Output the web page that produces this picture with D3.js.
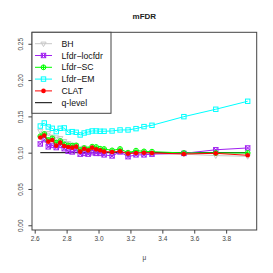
<!DOCTYPE html>
<html>
<head>
<meta charset="utf-8">
<script src="https://cdn.jsdelivr.net/npm/d3@7"></script>
<style>
  body { margin: 0; background: #fff; }
  svg { display: block; font-family: "Liberation Sans", Arial, sans-serif; }
</style>
</head>
<body>
<svg id="chart" width="273" height="273"></svg>
<script>
// mu values (x)
const mu = [2.635, 2.66, 2.685, 2.71, 2.735, 2.76, 2.785, 2.81, 2.835, 2.86, 2.885, 2.91, 2.935,
  2.96, 2.985, 3.01, 3.035, 3.085, 3.135, 3.185, 3.235, 3.285, 3.335, 3.535, 3.735, 3.935];

const bh = [0.130, 0.126, 0.127, 0.122, 0.121, 0.120, 0.116, 0.113, 0.111, 0.110, 0.106, 0.107, 0.104,
  0.104, 0.104, 0.103, 0.102, 0.101, 0.102, 0.099, 0.100, 0.100, 0.099, 0.098, 0.096, 0.095];
const locfdr = [0.112, 0.118, 0.108, 0.110, 0.107, 0.110, 0.1055, 0.102, 0.101, 0.104, 0.098, 0.099, 0.098,
  0.100, 0.099, 0.099, 0.097, 0.0955, 0.101, 0.0945, 0.097, 0.097, 0.098, 0.099, 0.104, 0.1065];
const sc = [0.1226, 0.1258, 0.1175, 0.1198, 0.1138, 0.1161, 0.1115, 0.1101, 0.1097, 0.1101, 0.1037, 0.1064, 0.1046,
  0.1083, 0.1078, 0.1055, 0.1051, 0.1032, 0.1051, 0.1000, 0.1028, 0.1018, 0.1014, 0.0996, 0.0996, 0.0996];
const em = [0.1367, 0.1409, 0.1354, 0.1336, 0.1290, 0.1336, 0.1341, 0.1281, 0.1290, 0.1281, 0.1244, 0.1271, 0.1285,
  0.1299, 0.1299, 0.1295, 0.1295, 0.1299, 0.1313, 0.1313, 0.1331, 0.1359, 0.1377, 0.1496, 0.1598, 0.1708];
const clat = [0.1209, 0.1237, 0.1152, 0.1175, 0.1097, 0.1138, 0.1092, 0.1078, 0.1069, 0.1083, 0.1014, 0.1055, 0.1032,
  0.1069, 0.1046, 0.1032, 0.1014, 0.1009, 0.1018, 0.0987, 0.0996, 0.1000, 0.0996, 0.0982, 0.0991, 0.0964];
const qLevel = 0.1;

const xTicks = [2.6, 2.8, 3.0, 3.2, 3.4, 3.6, 3.8];
const yTicks = [0.00, 0.05, 0.10, 0.15, 0.20, 0.25];

const series = [
  { name: "BH", values: bh, color: "#c8c8c8", pch: "tridown" },
  { name: "Lfdr\u2212locfdr", values: locfdr, color: "#a020f0", pch: "boxx" },
  { name: "Lfdr\u2212SC", values: sc, color: "#00ff00", pch: "circplus" },
  { name: "Lfdr\u2212EM", values: em, color: "#00ffff", pch: "square" },
  { name: "CLAT", values: clat, color: "#ff0000", pch: "dot" }
];

const svg = d3.select("#chart");
const plot = { left: 32, right: 256.7, top: 32.3, bottom: 230 };

const x = d3.scaleLinear().domain([2.583, 3.9915]).range([plot.left, plot.right]);
const y = d3.scaleLinear().domain([-0.0065, 0.2658]).range([plot.bottom, plot.top]);

// draw one R-style plotting symbol
function symbol(g, pch, cx, cy, color) {
  const s = 2.2;
  if (pch === "tridown") {
    g.append("path")
      .attr("d", `M${cx - 2.6},${cy - 1.6}L${cx + 2.6},${cy - 1.6}L${cx},${cy + 2.9}Z`)
      .attr("fill", "none").attr("stroke", color).attr("stroke-width", 1);
  } else if (pch === "boxx") {
    g.append("rect").attr("x", cx - s).attr("y", cy - s).attr("width", 2 * s).attr("height", 2 * s)
      .attr("fill", "none").attr("stroke", color).attr("stroke-width", 1);
    g.append("path")
      .attr("d", `M${cx - s},${cy - s}L${cx + s},${cy + s}M${cx - s},${cy + s}L${cx + s},${cy - s}`)
      .attr("stroke", color).attr("stroke-width", 1);
  } else if (pch === "circplus") {
    g.append("circle").attr("cx", cx).attr("cy", cy).attr("r", 2.4)
      .attr("fill", "none").attr("stroke", color).attr("stroke-width", 1);
    g.append("path")
      .attr("d", `M${cx - 2.4},${cy}L${cx + 2.4},${cy}M${cx},${cy - 2.4}L${cx},${cy + 2.4}`)
      .attr("stroke", color).attr("stroke-width", 1);
  } else if (pch === "square") {
    g.append("rect").attr("x", cx - s).attr("y", cy - s).attr("width", 2 * s).attr("height", 2 * s)
      .attr("fill", "none").attr("stroke", color).attr("stroke-width", 1);
  } else if (pch === "dot") {
    g.append("circle").attr("cx", cx).attr("cy", cy).attr("r", 2.3).attr("fill", color);
  }
}

const line = d3.line().x(d => x(d[0])).y(d => y(d[1]));

// q-level reference
svg.append("path")
  .attr("d", line([[mu[0], qLevel], [mu[mu.length - 1], qLevel]]))
  .attr("stroke", "#000").attr("fill", "none").attr("stroke-width", 1);

// series
series.forEach(s => {
  const pts = mu.map((m, i) => [m, s.values[i]]);
  const g = svg.append("g");
  g.append("path").attr("d", line(pts))
    .attr("fill", "none").attr("stroke", s.color).attr("stroke-width", 1);
  pts.forEach(p => symbol(g, s.pch, x(p[0]), y(p[1]), s.color));
});

// box
svg.append("rect")
  .attr("x", plot.left).attr("y", plot.top)
  .attr("width", plot.right - plot.left).attr("height", plot.bottom - plot.top)
  .attr("fill", "none").attr("stroke", "#444").attr("stroke-width", 1);

// axes
const xAxis = svg.append("g")
  .attr("transform", `translate(0,${plot.bottom})`)
  .call(d3.axisBottom(x).tickValues(xTicks).tickSize(3.6).tickPadding(2).tickFormat(d3.format(".1f")));
const yAxis = svg.append("g")
  .attr("transform", `translate(${plot.left},0)`)
  .call(d3.axisLeft(y).tickValues(yTicks).tickSize(3.6).tickPadding(2).tickFormat(d3.format(".2f")));
[xAxis, yAxis].forEach(a => {
  a.select(".domain").remove();
  a.selectAll(".tick line").attr("stroke", "#444");
  a.selectAll(".tick text").attr("fill", "#444").style("font-size", "6.5px")
    .style("font-family", "Liberation Sans, Arial, sans-serif");
});
xAxis.selectAll(".tick text").attr("dy", "0.9em");
yAxis.selectAll(".tick text")
  .attr("text-anchor", "middle")
  .attr("x", null).attr("dy", null)
  .attr("transform", "translate(-9,0) rotate(-90)");

// title and axis label
svg.append("text").attr("x", (plot.left + plot.right) / 2).attr("y", 19)
  .attr("text-anchor", "middle").style("font-size", "8px").style("font-weight", "bold")
  .attr("fill", "#222").text("mFDR");
svg.append("text").attr("x", (plot.left + plot.right) / 2).attr("y", 260)
  .attr("text-anchor", "middle").style("font-size", "6.5px").attr("fill", "#444").text("\u03bc");

// legend
const legend = svg.append("g");
legend.append("rect").attr("x", plot.left).attr("y", plot.top)
  .attr("width", 79).attr("height", 81)
  .attr("fill", "#fff").attr("stroke", "#444").attr("stroke-width", 1);
const legendItems = series.concat([{ name: "q-level", color: "#000", pch: null }]);
legendItems.forEach((s, i) => {
  const cy = 43.7 + i * 11.8;
  legend.append("line").attr("x1", 35).attr("x2", 52).attr("y1", cy).attr("y2", cy)
    .attr("stroke", s.color).attr("stroke-width", 1);
  if (s.pch) symbol(legend, s.pch, 43.5, cy, s.color);
  legend.append("text").attr("x", 61.5).attr("y", cy).attr("dy", "0.35em")
    .style("font-size", "8.7px").attr("fill", "#111").text(s.name);
});
</script>
</body>
</html>
